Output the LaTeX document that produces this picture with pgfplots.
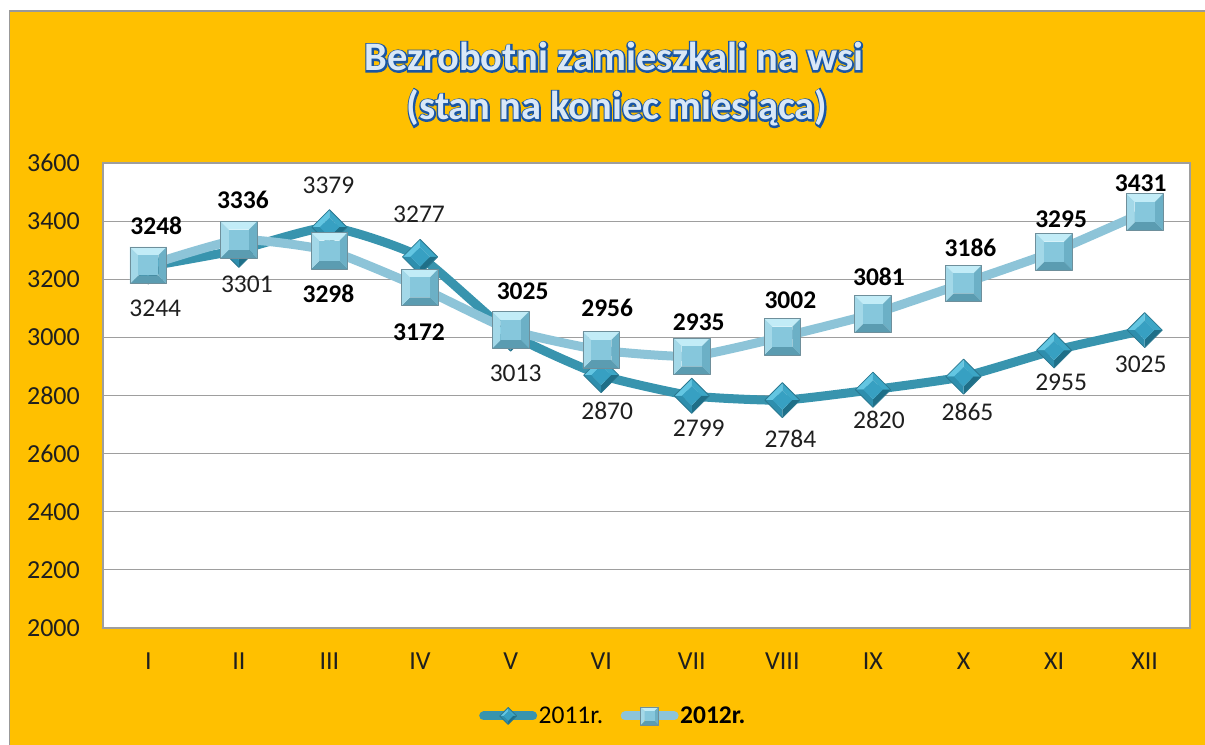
\documentclass[border=0pt]{standalone}
\usepackage{pgfplots}
\pgfplotsset{compat=1.18}
\usepackage{pgfplotstable}
\usepackage{fontspec}
\setmainfont{Carlito}
\newfontfamily\titleout[FakeBold=8]{Carlito Bold}
\newfontfamily\titlein{Carlito Bold}
\definecolor{bgor}{HTML}{FFC000}
\definecolor{cA}{HTML}{3894AE}
\definecolor{cB}{HTML}{8DC4D8}
\definecolor{sqT}{HTML}{C2ECF7}
\definecolor{sqL}{HTML}{A3D8E8}
\definecolor{sqC}{HTML}{86C7DC}
\definecolor{sqR}{HTML}{6CB0C6}
\definecolor{sqB}{HTML}{5B9CB1}
\definecolor{sqE}{HTML}{6E8F9B}
\definecolor{dT}{HTML}{63C6E2}
\definecolor{dR}{HTML}{3CA6C6}
\definecolor{dC}{HTML}{37A0C2}
\definecolor{dL}{HTML}{2E8EAD}
\definecolor{dB}{HTML}{1F6F88}
\definecolor{dE}{HTML}{2A7890}
\definecolor{tout}{HTML}{1A56A3}
\definecolor{tfill}{HTML}{D9E8F7}

% pyramid-like bevelled square mark
\newcommand{\pyrmark}[7]{% #1 rot, #2 top, #3 right, #4 bottom, #5 left, #6 center, #7 edge
  \pgfscope
  \pgftransformrotate{#1}%
  \pgfsetlinewidth{0pt}%
  \pgfsetfillcolor{#2}%
  \pgfpathmoveto{\pgfpoint{-\pgfplotmarksize}{\pgfplotmarksize}}%
  \pgfpathlineto{\pgfpoint{\pgfplotmarksize}{\pgfplotmarksize}}%
  \pgfpathlineto{\pgfpoint{0.55*\pgfplotmarksize}{0.55*\pgfplotmarksize}}%
  \pgfpathlineto{\pgfpoint{-0.55*\pgfplotmarksize}{0.55*\pgfplotmarksize}}%
  \pgfpathclose\pgfusepath{fill}%
  \pgfsetfillcolor{#3}%
  \pgfpathmoveto{\pgfpoint{\pgfplotmarksize}{\pgfplotmarksize}}%
  \pgfpathlineto{\pgfpoint{\pgfplotmarksize}{-\pgfplotmarksize}}%
  \pgfpathlineto{\pgfpoint{0.55*\pgfplotmarksize}{-0.55*\pgfplotmarksize}}%
  \pgfpathlineto{\pgfpoint{0.55*\pgfplotmarksize}{0.55*\pgfplotmarksize}}%
  \pgfpathclose\pgfusepath{fill}%
  \pgfsetfillcolor{#4}%
  \pgfpathmoveto{\pgfpoint{\pgfplotmarksize}{-\pgfplotmarksize}}%
  \pgfpathlineto{\pgfpoint{-\pgfplotmarksize}{-\pgfplotmarksize}}%
  \pgfpathlineto{\pgfpoint{-0.55*\pgfplotmarksize}{-0.55*\pgfplotmarksize}}%
  \pgfpathlineto{\pgfpoint{0.55*\pgfplotmarksize}{-0.55*\pgfplotmarksize}}%
  \pgfpathclose\pgfusepath{fill}%
  \pgfsetfillcolor{#5}%
  \pgfpathmoveto{\pgfpoint{-\pgfplotmarksize}{-\pgfplotmarksize}}%
  \pgfpathlineto{\pgfpoint{-\pgfplotmarksize}{\pgfplotmarksize}}%
  \pgfpathlineto{\pgfpoint{-0.55*\pgfplotmarksize}{0.55*\pgfplotmarksize}}%
  \pgfpathlineto{\pgfpoint{-0.55*\pgfplotmarksize}{-0.55*\pgfplotmarksize}}%
  \pgfpathclose\pgfusepath{fill}%
  \pgfsetfillcolor{#6}%
  \pgfpathrectanglecorners{\pgfpoint{-0.55*\pgfplotmarksize}{-0.55*\pgfplotmarksize}}{\pgfpoint{0.55*\pgfplotmarksize}{0.55*\pgfplotmarksize}}%
  \pgfusepath{fill}%
  \pgfsetstrokecolor{#7}%
  \pgfsetlinewidth{0.8bp}%
  \pgfpathrectanglecorners{\pgfpoint{-\pgfplotmarksize}{-\pgfplotmarksize}}{\pgfpoint{\pgfplotmarksize}{\pgfplotmarksize}}%
  \pgfusepath{stroke}%
  \endpgfscope
}
\pgfdeclareplotmark{pyrsq}{\pyrmark{0}{sqT}{sqR}{sqB}{sqL}{sqC}{sqE}}
\pgfdeclareplotmark{pyrdia}{\pyrmark{45}{dT}{dR}{dB}{dL}{dC}{dE}}

\pgfplotstableread{
x y dx dy
0 3244 7 -50
1 3301 8 -43
2 3379 -1 34
3 3277 -1 34
4 3013 5 -48
5 2870 6 -44
6 2799 7 -41
7 2784 8 -47
8 2820 6 -39
9 2865 4 -44
10 2955 7 -40
11 3025 -4 -42
}\dataA

\pgfplotstableread{
x y dx dy
0 3248 8 31
1 3336 4 31
2 3298 -1 -52
3 3172 -1 -53
4 3025 12 31
5 2956 6 34
6 2935 7 26
7 3002 8 28
8 3081 6 28
9 3186 7 27
10 3295 7 24
11 3431 -4 21
}\dataB

\begin{document}
\begin{tikzpicture}
\path[use as bounding box] (0,0) rectangle (1205bp,745bp);
\fill[white] (0,0) rectangle (1205bp,745bp);
\fill[bgor] (9.5bp,0) rectangle (1205bp,734bp);
\draw[black!40, line width=1.5bp] (9.5bp,0) -- (9.5bp,734bp) -- (1205bp,734bp);

% title: dark outline layer + light fill layer
\node[anchor=base, inner sep=0pt, text=tout] at (614bp,674bp) {\titleout\fontsize{40.5bp}{45bp}\selectfont Bezrobotni zamieszkali na wsi};
\node[anchor=base, inner sep=0pt, text=tfill] at (614bp,674bp) {\titlein\fontsize{40.5bp}{45bp}\selectfont Bezrobotni zamieszkali na wsi};
\node[anchor=base, inner sep=0pt, text=tout] at (617bp,625bp) {\titleout\fontsize{40.5bp}{45bp}\selectfont (stan na koniec miesiąca)};
\node[anchor=base, inner sep=0pt, text=tfill] at (617bp,625bp) {\titlein\fontsize{40.5bp}{45bp}\selectfont (stan na koniec miesiąca)};

\begin{axis}[
  at={(103bp,117bp)}, anchor=south west,
  scale only axis, width=1087bp, height=465bp,
  xmin=-0.5, xmax=11.5, ymin=2000, ymax=3600,
  xtick={0,1,...,11},
  xticklabels={I,II,III,IV,V,VI,VII,VIII,IX,X,XI,XII},
  ytick={2000,2200,...,3600},
  scaled y ticks=false,
  major tick length=0pt,
  ymajorgrids,
  grid style={draw=black!38, line width=1.2bp},
  axis line style={draw=black!38, line width=1.2bp},
  axis background/.style={fill=white},
  tick label style={font=\fontsize{26bp}{30bp}\selectfont, text=black!88},
  xticklabel style={anchor=base, inner sep=0pt, yshift=-41bp},
  yticklabel style={anchor=east, inner sep=0pt, xshift=-23bp},
  /pgf/number format/assume math mode=true,
  /pgf/number format/1000 sep={},
  clip=false,
  legend style={at={(0.3459,-0.1892)}, anchor=west, draw=none, fill=none,
    inner sep=0pt, legend columns=-1,
    font=\fontsize{25.5bp}{30bp}\selectfont,
    nodes={inner sep=1.5bp},
    /tikz/every even column/.append style={column sep=16bp}},
  legend image code/.code={%
    \draw[#1, line cap=round, mark repeat=2, mark phase=2] plot coordinates {(4.5bp,0bp) (29bp,0bp) (53.5bp,0bp)};},
]
\addplot[cA, line width=9bp, line join=round, smooth, tension=0.3, mark=pyrdia, mark size=12.4bp,
  legend image post style={mark size=6bp}]
  table[x=x, y=y] {\dataA};
\addlegendentry{2011r.}
\addplot[cB, line width=9bp, line join=round, smooth, tension=0.3, mark=pyrsq, mark size=18.3bp,
  legend image post style={mark size=9bp}]
  table[x=x, y=y] {\dataB};
\addlegendentry{\textbf{2012r.}}

\addplot[draw=none, mark=none, forget plot,
  nodes near coords, point meta=explicit symbolic,
  visualization depends on={\thisrow{dx} \as \ldx},
  visualization depends on={\thisrow{dy} \as \ldy},
  every node near coord/.append style={anchor=base, inner sep=0pt,
    xshift=\ldx bp, yshift=\ldy bp, text=black!88,
    font=\fontsize{25.5bp}{30bp}\selectfont}]
  table[x=x, y=y, meta=y] {\dataA};
\addplot[draw=none, mark=none, forget plot,
  nodes near coords, point meta=explicit symbolic,
  visualization depends on={\thisrow{dx} \as \ldx},
  visualization depends on={\thisrow{dy} \as \ldy},
  every node near coord/.append style={anchor=base, inner sep=0pt,
    xshift=\ldx bp, yshift=\ldy bp, text=black,
    font=\fontsize{25.5bp}{30bp}\selectfont\bfseries}]
  table[x=x, y=y, meta=y] {\dataB};
\end{axis}
\end{tikzpicture}
\end{document}
